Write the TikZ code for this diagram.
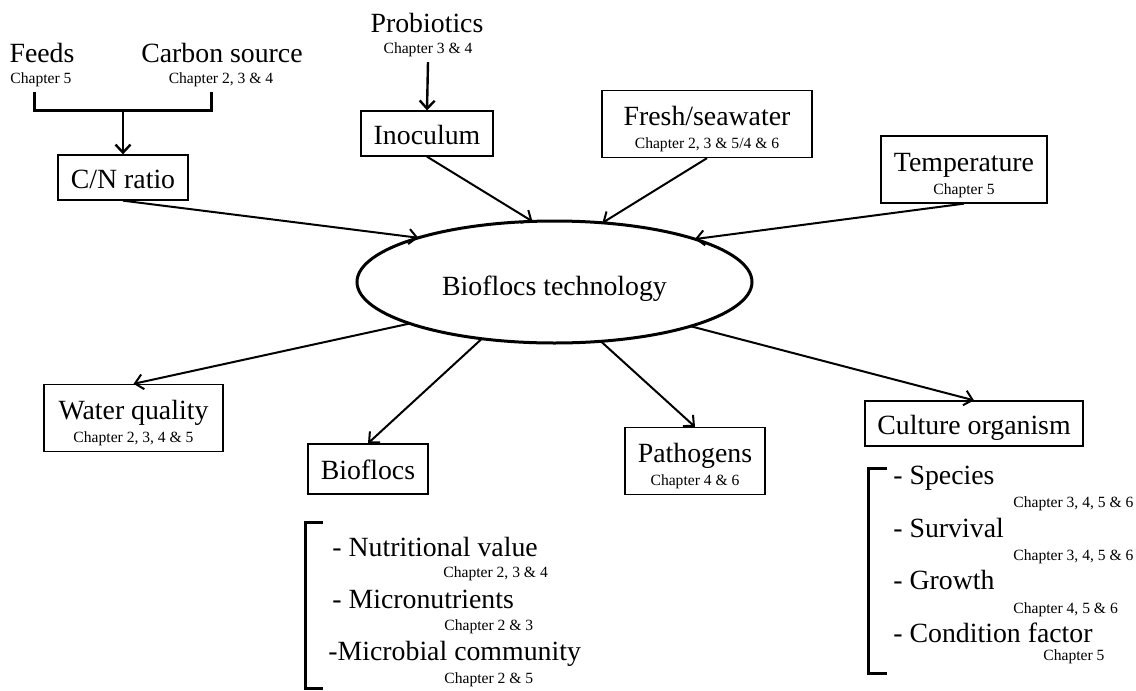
\documentclass[tikz,border=0pt]{standalone}
\usepackage{fontspec}
\setmainfont{Liberation Serif}
\usetikzlibrary{shapes.geometric,arrows.meta}
\newcommand{\bigtxt}{\fontsize{13.9}{11.5}\selectfont}
\newcommand{\chaptxt}{\fontsize{7.8}{9}\selectfont}
\newcommand{\boxtext}[2]{\rule{0pt}{17.5pt}#1\\{\chaptxt #2\rule[-4.5pt]{0pt}{0pt}}}
\begin{document}
\begin{tikzpicture}[x=0.5pt,y=-0.5pt,
    every node/.append style={font=\bigtxt},
    box/.style={draw,line width=0.65pt,inner sep=0pt},
    onebox/.style={box,text height=16.5pt,text depth=6pt},
    twobox/.style={box,align=center},
    txt/.style={inner sep=0pt,anchor=base},
    item/.style={inner sep=0pt,anchor=base west},
    chap/.style={font=\chaptxt},
    arr/.style={-{Straight Barb[length=4pt,width=7.5pt]},line width=1pt},
    brk/.style={line width=1.5pt}]
  \useasboundingbox (0,0) rectangle (1136,691);
  % centre
  \node[draw,ellipse,line width=1.5pt,outer sep=0pt,inner sep=0pt,
        minimum width=197.5pt,minimum height=61pt,text height=13pt,text depth=0pt]
        (bft) at (554.5,282) {Bioflocs technology};
  % inputs
  \node[txt] (feeds) at (42,62) {Feeds};
  \node[txt,chap] (feedsch) at (41,83) {Chapter 5};
  \node[txt] (carbon) at (222,62) {Carbon source};
  \node[txt,chap] (carbonch) at (221,83) {Chapter 2, 3 \& 4};
  \node[txt] (probio) at (427,32) {Probiotics};
  \node[txt,chap,inner ysep=2.7pt] (probioch) at (428,53) {Chapter 3 \& 4};
  \node[onebox,minimum width=65pt] (cn) at (123,177.5) {C/N ratio};
  \node[onebox,minimum width=66pt] (inoc) at (427,133.5) {Inoculum};
  \node[twobox,minimum width=105pt] (fresh) at (707,124) {\boxtext{Fresh/seawater}{Chapter 2, 3 \& 5/4 \& 6}};
  \node[twobox,minimum width=83pt] (temp) at (964,169.5) {\boxtext{Temperature}{Chapter 5}};
  % outputs
  \node[twobox,minimum width=89.5pt] (wq) at (133.5,418) {\boxtext{Water quality}{Chapter 2, 3, 4 \& 5}};
  \node[onebox,minimum width=60pt,minimum height=25pt] (bio) at (368,469) {Bioflocs};
  \node[twobox,minimum width=70pt] (path) at (695,461) {\boxtext{Pathogens}{Chapter 4 \& 6}};
  \node[onebox,minimum width=109pt] (cult) at (974,423.5) {Culture organism};
  % feeds + carbon bracket
  \draw[brk] (34,92) |- (211,110) -- (211,92);
  \coordinate (cnjoin) at (123,110);
  \draw[arr,line width=1.2pt] (cnjoin) -- (cn.north);
  \draw[arr,line width=1.2pt] (probioch.south) -- (inoc.north);
  \draw[arr] (cn.south) -- (bft.162.9);
  \draw[arr] (inoc.south) -- (bft.110.6);
  \draw[arr] (fresh.south) -- (bft.51.6);
  \draw[arr] (temp.south) -- (bft.17.2);
  \draw[arr] (bft.196.9) -- (wq.north);
  \draw[arr] (bft.218.1) -- (bio.north);
  \draw[arr] (bft.308.5) -- (path.north);
  \draw[arr] (bft.342.5) -- (cult.north);
  % bioflocs list
  \draw[brk] (323,522) -| (305,688) -- (323,688);
  \node[item] (nut) at (332,556) {- Nutritional value};
  \node[item,chap] (nutch) at (443,577.5) {Chapter 2, 3 \& 4};
  \node[item] (micro) at (332,608) {- Micronutrients};
  \node[item,chap] (microch) at (444,630) {Chapter 2 \& 3};
  \node[item] (mcom) at (328,660) {-Microbial community};
  \node[item,chap] (mcomch) at (444,683) {Chapter 2 \& 5};
  % culture organism list
  \draw[brk] (887,468) -| (868,673) -- (887,673);
  \node[item] (spec) at (893,484) {- Species};
  \node[item,chap] (specch) at (1013,507) {Chapter 3, 4, 5 \& 6};
  \node[item] (surv) at (893,537) {- Survival};
  \node[item,chap] (survch) at (1013,560) {Chapter 3, 4, 5 \& 6};
  \node[item] (grow) at (893,589) {- Growth};
  \node[item,chap] (growch) at (1013,613) {Chapter 4, 5 \& 6};
  \node[item] (cond) at (893,642) {- Condition factor};
  \node[item,chap] (condch) at (1043,660) {Chapter 5};
\end{tikzpicture}
\end{document}
